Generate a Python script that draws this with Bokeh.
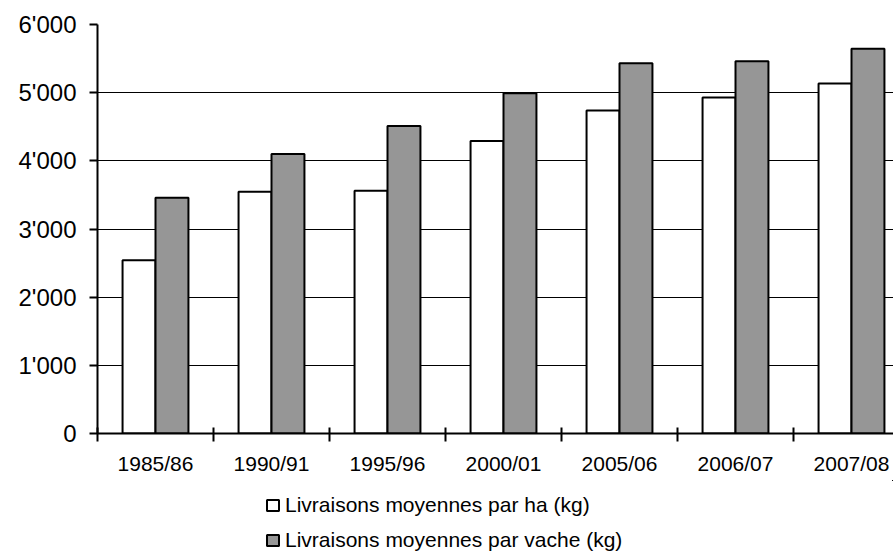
import numpy as np
from bokeh.plotting import figure
from bokeh.layouts import column
from bokeh.models import (Range1d, FixedTicker, Legend, LegendItem, ColumnDataSource)
from bokeh.embed import file_html
from bokeh.resources import INLINE

# ---- data ----
categories = ["1985/86", "1990/91", "1995/96", "2000/01", "2005/06", "2006/07", "2007/08"]
par_ha = [2540, 3545, 3560, 4290, 4740, 4930, 5135]
par_vache = [3460, 4100, 4510, 4990, 5430, 5460, 5645]
y_ticks = [0, 1000, 2000, 3000, 4000, 5000, 6000]
y_tick_labels = ["0", "1'000", "2'000", "3'000", "4'000", "5'000", "6'000"]
series_names = ["Livraisons moyennes par ha (kg)", "Livraisons moyennes par vache (kg)"]

FONT = "Liberation Sans"
n = len(categories)
centers = np.arange(n) + 0.5
bw = 0.284
WHITE_STYLE = dict(fill_color="white", line_color="black", line_width=2)
GREY_STYLE = dict(fill_color="#969696", line_color="black", line_width=2)

src = ColumnDataSource(dict(xa=centers - bw / 2, xb=centers + bw / 2, ha=par_ha, vache=par_vache))

# ---- main chart ----
p = figure(width=893, height=480, output_backend="svg", toolbar_location=None,
           x_range=Range1d(0, 796 / 116), y_range=Range1d(0, 6000),
           min_border_left=97, min_border_right=0, min_border_top=24, min_border_bottom=47)
p.outline_line_color = None
p.background_fill_color = "white"
p.border_fill_color = "white"

r1 = p.vbar(x="xa", top="ha", width=bw, source=src, **WHITE_STYLE)
r2 = p.vbar(x="xb", top="vache", width=bw, source=src, **GREY_STYLE)

p.xgrid.grid_line_color = None
p.ygrid.ticker = FixedTicker(ticks=y_ticks)
p.ygrid.grid_line_color = "black"
p.ygrid.grid_line_width = 1

ya = p.yaxis[0]
ya.ticker = FixedTicker(ticks=y_ticks)
ya.major_label_overrides = {t: l for t, l in zip(y_ticks, y_tick_labels)}
ya.axis_line_width = 2
ya.major_tick_line_width = 2
ya.major_tick_in = 0
ya.major_tick_out = 8
ya.minor_tick_line_color = None
ya.major_label_standoff = 13
ya.major_label_text_font = FONT
ya.major_label_text_font_size = "24px"
ya.major_label_text_color = "black"

xa = p.xaxis[0]
xa.ticker = FixedTicker(ticks=list(centers), minor_ticks=list(range(n + 1)))
xa.major_label_overrides = {float(c): l for c, l in zip(centers, categories)}
xa.axis_line_width = 2
xa.major_tick_line_color = None
xa.major_tick_in = 0
xa.major_tick_out = 0
xa.minor_tick_line_width = 2
xa.minor_tick_line_color = "black"
xa.minor_tick_in = 6
xa.minor_tick_out = 8
xa.major_label_standoff = 10
xa.major_label_text_font = FONT
xa.major_label_text_font_size = "21px"
xa.major_label_text_color = "black"

# ---- legend strip (same series; its bars lie outside the strip's visible ranges) ----
lg = figure(width=893, height=72, output_backend="svg", toolbar_location=None,
            x_range=Range1d(-20, -10), y_range=Range1d(-2, -1),
            x_axis_type=None, y_axis_type=None,
            min_border_left=0, min_border_right=0, min_border_top=0, min_border_bottom=0)
lg.outline_line_color = None
lg.grid.grid_line_color = None
lg.background_fill_color = "white"
lg.border_fill_color = "white"
l1 = lg.vbar(x="xa", top="ha", width=bw, source=src, **WHITE_STYLE)
l2 = lg.vbar(x="xb", top="vache", width=bw, source=src, **GREY_STYLE)

legend = Legend(items=[LegendItem(label=series_names[0], renderers=[l1]),
                       LegendItem(label=series_names[1], renderers=[l2])],
                location=(168, 0), orientation="vertical",
                border_line_color=None, background_fill_alpha=0,
                padding=0, margin=0, spacing=11,
                glyph_width=15, glyph_height=14, label_standoff=5,
                label_height=23,
                label_text_font=FONT, label_text_font_size="21px",
                label_text_color="black")
lg.add_layout(legend, "center")

layout = column(p, lg, spacing=0)
open("out.html", "w").write(file_html(layout, INLINE))
